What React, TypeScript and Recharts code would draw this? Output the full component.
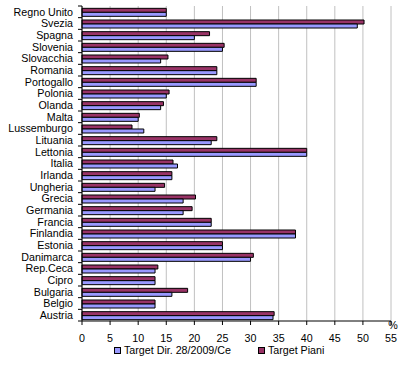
import React from "react";
import { BarChart, Bar, XAxis, YAxis, CartesianGrid } from "recharts";

const categories = [
  "Regno Unito", "Svezia", "Spagna", "Slovenia", "Slovacchia", "Romania", "Portogallo",
  "Polonia", "Olanda", "Malta", "Lussemburgo", "Lituania", "Lettonia", "Italia",
  "Irlanda ", "Ungheria", "Grecia", "Germania", "Francia", "Finlandia", "Estonia",
  "Danimarca", "Rep.Ceca", "Cipro", "Bulgaria", "Belgio", "Austria",
];
const targetDir = [15, 49, 20, 25, 14, 24, 31, 15, 14, 10, 11, 23, 40, 17, 16, 13, 18, 18, 23, 38, 25, 30, 13, 13, 16, 13, 34];
const targetPiani = [15, 50.2, 22.7, 25.3, 15.3, 24, 31, 15.5, 14.5, 10.2, 8.9, 24, 40, 16.2, 16, 14.7, 20.2, 19.6, 23, 38, 25, 30.5, 13.5, 13, 18.8, 13, 34.2];
const xTicks = [0, 5, 10, 15, 20, 25, 30, 35, 40, 45, 50, 55];
const seriesNames = ["Target Dir. 28/2009/Ce", "Target Piani"];

const data = categories.map((name, i) => ({ name, dir: targetDir[i], piani: targetPiani[i] }));

const W = 405;
const H = 372;
const MARGIN = { top: 6, right: 14, bottom: 21, left: 0 };
const X_AXIS_H = 30;
const PLOT_H = H - MARGIN.top - MARGIN.bottom - X_AXIS_H;
const BAND = PLOT_H / categories.length;
const FONT = "'Liberation Sans', Arial, sans-serif";
const FS = 10.7;
const DIR_COLOR = "#9999FF";
const PIANI_COLOR = "#993366";

const YTick = (props: any) => {
  const { x, y, payload, index } = props;
  const axisX = x + 5 + 4;
  return (
    <g>
      <line x1={axisX - 4} x2={axisX} y1={y - BAND / 2} y2={y - BAND / 2} stroke="#000" />
      {index === categories.length - 1 && (
        <line x1={axisX - 4} x2={axisX} y1={y + BAND / 2} y2={y + BAND / 2} stroke="#000" />
      )}
      <text x={x} y={y} dy="0.35em" textAnchor="end" fontSize={FS} fontFamily={FONT} fill="#000">
        {payload.value}
      </text>
    </g>
  );
};

const PctLabel = (props: any) => {
  const vb = props.viewBox || {};
  return (
    <text x={vb.x + vb.width + 2} y={vb.y + 8} textAnchor="middle" fontSize={FS} fontFamily={FONT} fill="#000">
      %
    </text>
  );
};

export default function App() {
  return (
    <div style={{ position: "absolute", left: 0, top: 0, width: W, height: H, background: "#fff" }}>
      <BarChart
        width={W}
        height={H}
        data={data}
        layout="vertical"
        margin={MARGIN}
        barGap={0}
        barCategoryGap="20%"
      >
        <CartesianGrid horizontal={false} stroke="#c0c0c0" strokeWidth={1} />
        <XAxis
          type="number"
          domain={[0, 55]}
          ticks={xTicks}
          interval={0}
          height={X_AXIS_H}
          tickSize={4}
          tickMargin={9}
          axisLine={{ stroke: "#000" }}
          tickLine={{ stroke: "#000" }}
          tick={{ fontSize: FS, fontFamily: FONT, fill: "#000" }}
          label={<PctLabel />}
        />
        <YAxis
          type="category"
          dataKey="name"
          width={82}
          interval={0}
          tickSize={4}
          tickMargin={5}
          tickLine={false}
          axisLine={{ stroke: "#000" }}
          tick={<YTick />}
        />
        <Bar dataKey="piani" name={seriesNames[1]} fill={PIANI_COLOR} stroke="#000" strokeWidth={1} isAnimationActive={false} />
        <Bar dataKey="dir" name={seriesNames[0]} fill={DIR_COLOR} stroke="#000" strokeWidth={1} isAnimationActive={false} />
      </BarChart>
      <div
        style={{
          position: "absolute",
          left: 114,
          top: 344,
          display: "flex",
          alignItems: "center",
          fontFamily: FONT,
          fontSize: FS,
          color: "#000",
          whiteSpace: "nowrap",
        }}
      >
        <span style={{ display: "inline-block", width: 5, height: 5, background: DIR_COLOR, border: "1px solid #000", marginRight: 3 }} />
        <span style={{ marginRight: 27 }}>{seriesNames[0]}</span>
        <span style={{ display: "inline-block", width: 5, height: 5, background: PIANI_COLOR, border: "1px solid #000", marginRight: 3 }} />
        <span>{seriesNames[1]}</span>
      </div>
    </div>
  );
}
